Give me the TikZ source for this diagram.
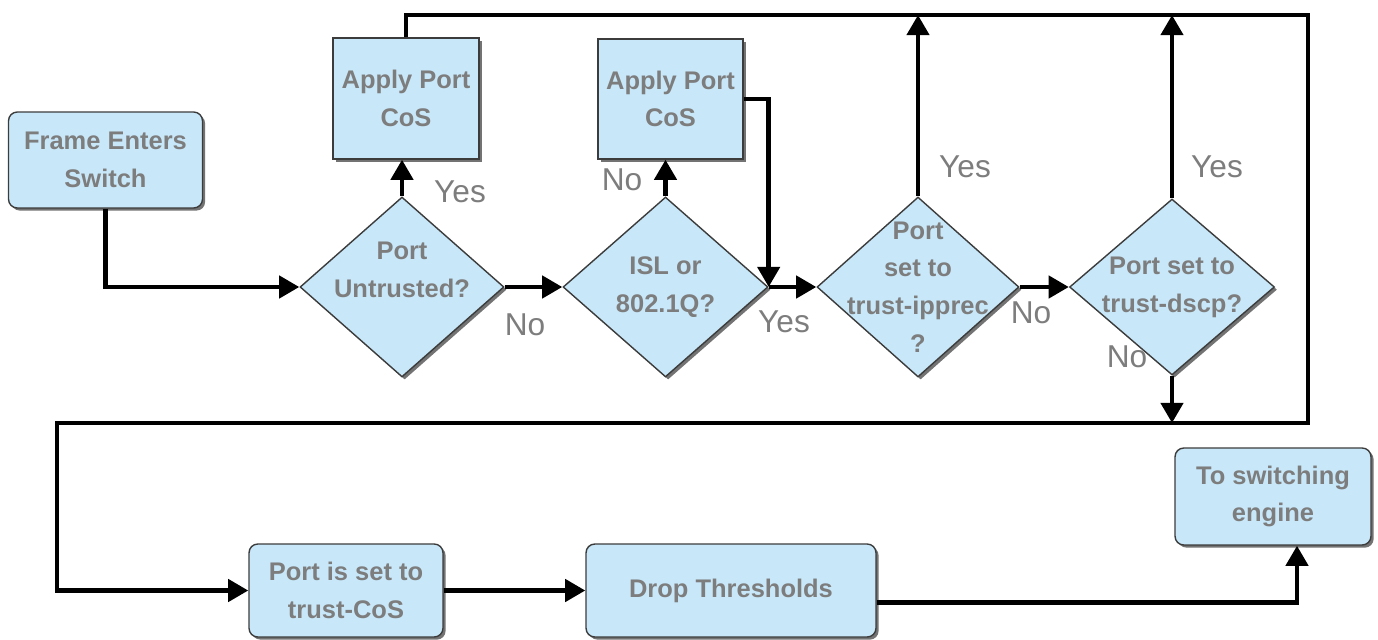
\documentclass[tikz,border=0pt]{standalone}
\usepackage{fontspec}
\setmainfont{Liberation Sans}
\usetikzlibrary{shapes.geometric,arrows.meta,shadows}
\definecolor{boxfill}{RGB}{200,232,250}
\definecolor{txtgray}{RGB}{125,125,125}
\definecolor{edgecol}{RGB}{60,60,60}
\begin{document}
\begin{tikzpicture}[x=0.02cm,y=-0.02cm,
  box/.style={draw=edgecol, line width=0.8pt, fill=boxfill, inner sep=0pt, align=center,
    font=\bfseries\fontsize{14.5}{21.5}\selectfont, text=txtgray,
    drop shadow={shadow xshift=1.5pt,shadow yshift=-1.5pt,fill=black!55,opacity=1}},
  rbox/.style={box, rounded corners=5pt},
  dec/.style={box, diamond},
  dtext/.style={align=center, font=\bfseries\fontsize{14.5}{21.5}\selectfont, text=txtgray, inner sep=0pt},
  lbl/.style={font=\fontsize{18}{20}\selectfont, text=txtgray, inner sep=0pt},
  flow/.style={line width=2.7pt, -{Triangle[length=11.5pt,width=12.5pt]}},
]
\useasboundingbox (0,0) rectangle (1378,639);

% boxes
\node[rbox, minimum width=3.88cm, minimum height=1.92cm] (frame) at (105.5,160) {Frame Enters\\Switch};
\node[box, minimum width=2.92cm, minimum height=2.42cm] (apc1) at (406,98.5) {Apply Port\\CoS};
\node[box, minimum width=2.90cm, minimum height=2.40cm] (apc2) at (670.5,99) {Apply Port\\CoS};
\node[rbox, minimum width=3.88cm, minimum height=1.86cm] (tcos) at (346,590.5) {Port is set to\\trust-CoS};
\node[rbox, minimum width=5.80cm, minimum height=1.86cm] (drop) at (731,590.5) {Drop Thresholds};
\node[rbox, minimum width=3.92cm, minimum height=1.94cm] (engine) at (1273,496.5) {To switching\\engine};

% decisions
\node[dec, minimum width=4.08cm, minimum height=3.60cm] (d1) at (402,287) {};
\node[dec, minimum width=4.10cm, minimum height=3.60cm] (d2) at (665.5,287) {};
\node[dec, minimum width=4.04cm, minimum height=3.60cm] (d3) at (918,287) {};
\node[dec, minimum width=4.10cm, minimum height=3.52cm] (d4) at (1172,287) {};
\node[dtext, yshift=0.34cm] (d1t) at (d1) {Port\\Untrusted?};
\node[dtext] (d2t) at (d2) {ISL or\\802.1Q?};
\node[dtext] (d3t) at (d3) {Port\\set to\\trust-ipprec\\?};
\node[dtext] (d4t) at (d4) {Port set to\\trust-dscp?};

% loop corners
\coordinate (tr) at (1308,15);
\coordinate (br) at (1308,423);
\coordinate (bl) at (57,423);

% connectors
\draw[flow] (frame.south) |- (d1.west);
\draw[flow] (d1.north) -- (d1.north |- apc1.south);
\draw[flow] (d1.east) -- (d2.west);
\draw[flow] (d2.north) -- (d2.north |- apc2.south);
\draw[flow] (apc2.east) -| (d2.east);
\draw[flow] (d2.east) -- (d3.west);
\draw[flow] (d3.east) -- (d4.west);
\draw[flow] (apc1.north) |- (tr) -- (br) -- (bl) |- (tcos.west);
\draw[flow] (d3.north) -- (d3.north |- tr);
\draw[flow] (d4.north) -- (d4.north |- tr);
\draw[flow] (d4.south) -- (d4.south |- br);
\draw[flow] (tcos.east) -- (drop.west);
\draw[flow] ([yshift=-0.24cm]drop.east) -| ([xshift=0.48cm]engine.south);

% labels
\node[lbl] (l1) at (460,192) {Yes};
\node[lbl] (l2) at (525,325) {No};
\node[lbl] (l3) at (622,180) {No};
\node[lbl] (l4) at (784,322) {Yes};
\node[lbl] (l5) at (965,167) {Yes};
\node[lbl] (l6) at (1031,313) {No};
\node[lbl] (l7) at (1217,167) {Yes};
\node[lbl] (l8) at (1127,357) {No};
\end{tikzpicture}
\end{document}
